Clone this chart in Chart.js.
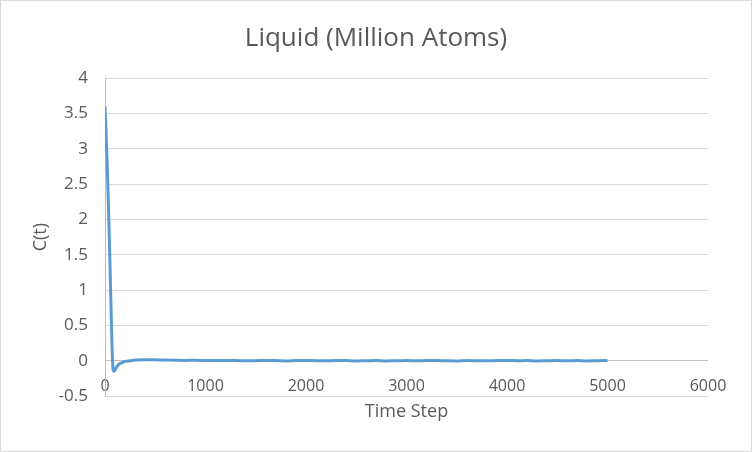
<!DOCTYPE html>
<html>
<head>
<meta charset="utf-8">
<script src="https://cdn.jsdelivr.net/npm/chart.js@4"></script>
<style>
  html, body { margin: 0; padding: 0; background: #fff; }
  #wrap { width: 752px; height: 452px; position: relative; }
</style>
</head>
<body>
<div id="wrap"><canvas id="corrChart"></canvas></div>
<script>
// Time steps and C(t) values
const timeSteps = [0, 10, 20, 30, 40, 50, 60, 70, 80, 90, 100, 120, 140, 160, 180, 200, 250, 300, 400, 500, 600,
    700, 800, 900, 1000, 1100, 1200, 1300, 1400, 1500, 1600, 1700, 1800, 1900, 2000,
    2100, 2200, 2300, 2400, 2500, 2600, 2700, 2800, 2900, 3000,
    3100, 3200, 3300, 3400, 3500, 3600, 3700, 3800, 3900, 4000,
    4100, 4200, 4300, 4400, 4500, 4600, 4700, 4800, 4900, 5000];
const corrValues = [3.6, 3.25, 2.85, 2.4, 1.9, 1.35, 0.75, 0.2, -0.12, -0.15, -0.13, -0.08, -0.05, -0.035, -0.02, -0.01, 0.0, 0.01, 0.015, 0.012, 0.01,
    0.006, 0.004, 0.005, 0.002, 0.004, 0.001, 0.003, -0.002, 0.0, 0.003, 0.001, -0.003, 0.002, 0.004,
    0.0, -0.002, 0.003, 0.001, -0.004, -0.001, 0.002, -0.003, 0.0, 0.002,
    -0.002, 0.001, 0.003, -0.001, -0.003, 0.002, 0.0, -0.002, 0.001, 0.003,
    -0.001, 0.002, -0.003, 0.0, 0.002, -0.002, 0.001, -0.004, 0.0, 0.002];
const xTicks = [0, 1000, 2000, 3000, 4000, 5000, 6000];
const yTicks = [-0.5, 0, 0.5, 1, 1.5, 2, 2.5, 3, 3.5, 4];

const textColor = '#595959';
const fontFamily = '"Open Sans", sans-serif';

// fond blanc + cadre gris
const frame = {
    id: 'frame',
    beforeDraw(chart) {
        const ctx = chart.ctx;
        ctx.save();
        ctx.fillStyle = '#fff';
        ctx.fillRect(0, 0, chart.width, chart.height);
        ctx.strokeStyle = '#d9d9d9';
        ctx.lineWidth = 1;
        ctx.strokeRect(0.5, 0.5, chart.width - 1, chart.height - 1);
        ctx.restore();
    }
};

new Chart(document.getElementById('corrChart'), {
    type: 'line',
    data: {
        datasets: [{
            label: 'C(t)',
            data: timeSteps.map((t, i) => ({ x: t, y: corrValues[i] })),
            borderColor: '#5b9bd5',
            borderWidth: 3,
            pointRadius: 0,
            cubicInterpolationMode: 'monotone',
            fill: false
        }]
    },
    options: {
        responsive: true,
        maintainAspectRatio: false,
        animation: false,
        // marges symétriques pour centrer le titre sur la figure
        layout: { padding: { left: 44, right: 44, top: 0, bottom: 0 } },
        plugins: {
            legend: { display: false },
            tooltip: { enabled: false },
            title: {
                display: true,
                text: 'Liquid (Million Atoms)',
                color: textColor,
                font: { family: fontFamily, size: 26, weight: 'normal' },
                padding: { top: 23, bottom: 24 }
            }
        },
        scales: {
            x: {
                type: 'linear',
                min: 0,
                max: 6000,
                afterBuildTicks: (s) => { s.ticks = xTicks.map(v => ({ value: v })); },
                afterFit: (s) => { s.height = 56; },
                grid: { display: false, drawTicks: false },
                border: { display: false },
                ticks: {
                    color: textColor,
                    font: { family: fontFamily, size: 16 },
                    mirror: true, // étiquettes au-dessus du bord bas, comme Excel
                    padding: 0,
                    maxRotation: 0,
                    autoSkip: false,
                    callback: (v) => String(v)
                },
                title: {
                    display: true,
                    text: 'Time Step',
                    color: textColor,
                    font: { family: fontFamily, size: 18 },
                    padding: { top: 0, bottom: 29 }
                }
            },
            y: {
                min: -0.5,
                max: 4,
                afterBuildTicks: (s) => { s.ticks = yTicks.map(v => ({ value: v })); },
                afterFit: (s) => { s.width = 61; },
                grid: {
                    drawTicks: false,
                    color: (c) => c.tick && c.tick.value === 0 ? '#bfbfbf' : '#d9d9d9'
                },
                border: { display: true, color: '#bfbfbf' },
                ticks: {
                    color: textColor,
                    font: { family: fontFamily, size: 17 },
                    padding: 17,
                    callback: (v) => String(v)
                },
                title: {
                    display: true,
                    text: 'C(t)',
                    color: textColor,
                    font: { family: fontFamily, size: 18 },
                    padding: { top: -14, bottom: 0 }
                }
            }
        }
    },
    plugins: [frame]
});
</script>
</body>
</html>
